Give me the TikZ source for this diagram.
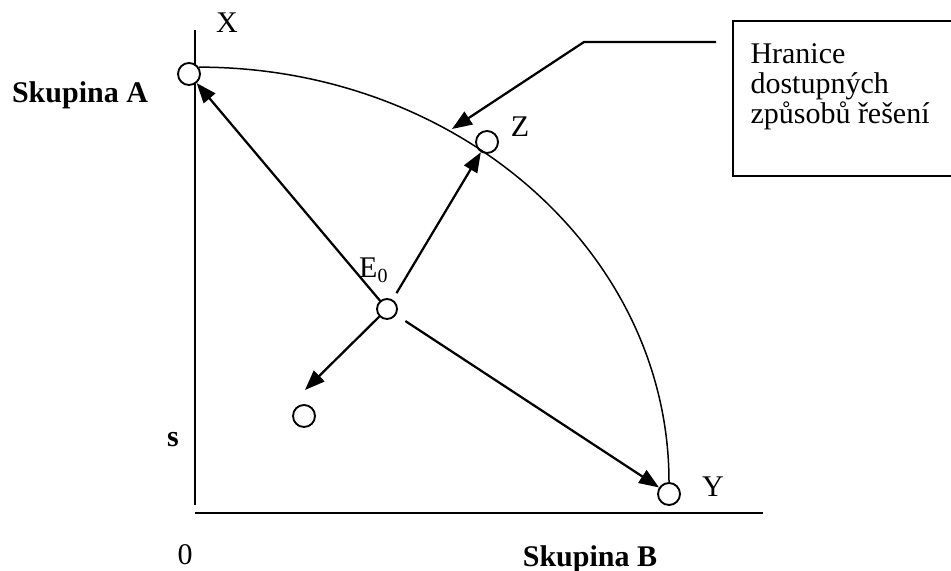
\documentclass[tikz,border=0pt,12pt]{standalone}
\usepackage{fontspec}
\setmainfont{Liberation Serif}
\usetikzlibrary{positioning, calc, arrows.meta}

\begin{document}
\begin{tikzpicture}[x=0.4pt, y=0.4pt,
    pt/.style={circle, draw, line width=0.75pt, fill=white, minimum size=8.8pt, inner sep=0pt},
    arr/.style={line width=0.9pt, -{Triangle[length=8pt, width=6pt]}},
    lbl/.style={anchor=base, inner sep=0pt},
    axis/.style={line width=0.8pt}]

    \useasboundingbox (0,0) rectangle (951,571);

    % --- Axes ---
    \coordinate (O) at (195,58);
    \coordinate (vtop) at (195,541);
    \coordinate (vbot) at (195,66);
    \coordinate (hend) at (763,58);
    \draw[axis] (vtop) -- (vbot);
    \draw[axis] (O) -- (hend);

    % --- Points ---
    \node[pt] (X) at (189,497) {};
    \node[pt] (Z) at (487,429) {};
    \node[pt, minimum size=8pt] (E0) at (387,262) {};
    \node[pt] (dn) at (304,155) {};
    \node[pt] (Y) at (669,77) {};

    % Boundary curve X -- Y
    \draw[line width=0.6pt] (X.35) .. controls +(260,0) and +(0,229) .. (Y.north);

    % --- Arrows from E0 ---
    \coordinate (dnTip) at (305,181);
    \draw[arr, shorten <=-0.8pt] (E0) -- (X);
    \draw[arr, shorten <=3pt] (E0) -- (Z);
    \draw[arr] (E0) -- (dnTip);
    \draw[arr, shorten <=4.4pt] (E0) -- (Y);

    % --- Callout ---
    \node[draw, line width=0.75pt, anchor=north west, minimum width=93.2pt, minimum height=62pt, inner sep=0pt] (box) at (732,551) {};
    \node[anchor=north west, align=left, inner sep=0pt, font=\fontsize{12}{12}\selectfont] (boxtxt) at (750,528) {Hranice\\dostupných\\způsobů řešení};
    \coordinate (cStart) at (716,529);
    \coordinate (cBend) at (584,529);
    \coordinate (cTip) at (452,442);
    \draw[arr] (cStart) -- (cBend) -- (cTip);

    % --- Labels ---
    \node[lbl] (lX) at (227,538) {X};
    \node[lbl] (lZ) at (520,434) {Z};
    \node[lbl] (lE) at (374,293) {E\textsubscript{0}};
    \node[lbl] (lY) at (713,74) {Y};
    \node[lbl, font=\bfseries] (lS) at (173,124) {s};
    \node[lbl] (l0) at (185,6) {0};
    \node[lbl, font=\bfseries] (lA) at (80,468) {Skupina A};
    \node[lbl, font=\bfseries] (lB) at (590,4) {Skupina B};

\end{tikzpicture}
\end{document}
